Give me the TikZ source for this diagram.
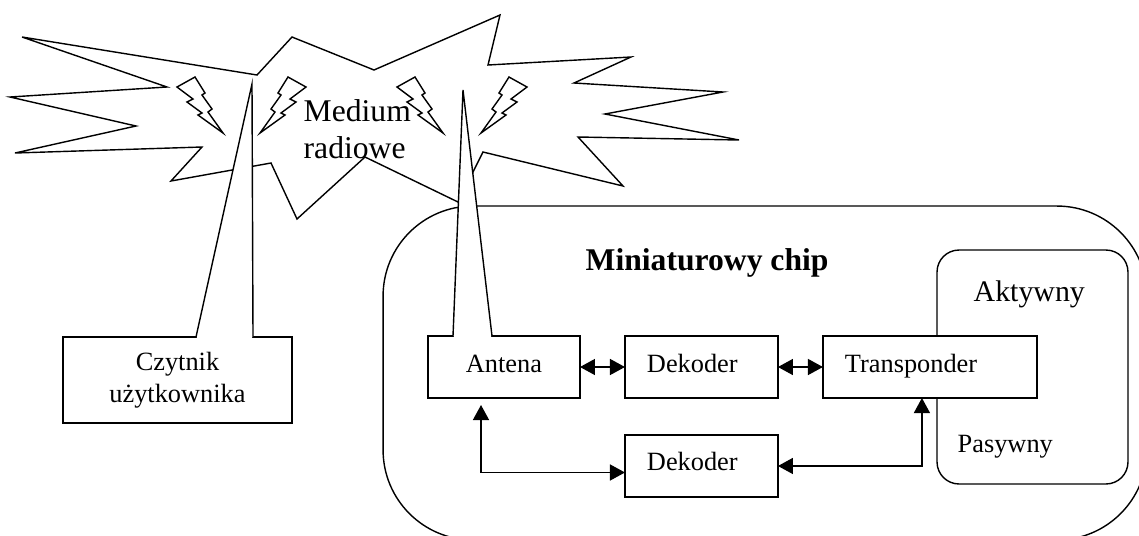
\documentclass[tikz,border=0pt]{standalone}
\usepackage{fontspec}
\setmainfont{Liberation Serif}
\usetikzlibrary{arrows.meta, positioning}

\begin{document}
\begin{tikzpicture}[
    x=0.02cm, y=-0.02cm,
    line width=0.8pt,
    node distance=0.74cm and 0.9cm,
    box/.style={rectangle, draw, fill=white, outer sep=0pt, inner ysep=0pt, align=left, font=\fontsize{15}{18}\selectfont, text height=0.36cm, text depth=0.16cm, minimum height=1.24cm},
    rounded/.style={rectangle, draw, fill=white, outer sep=0pt},
    caption/.style={anchor=base west, inner sep=0pt},
    arrow/.style={{Triangle[length=0.3cm, width=0.32cm]}-{Triangle[length=0.3cm, width=0.32cm]}},
    spike/.style={draw, fill=white, line join=miter},
    bolt/.style={draw, fill=white, line join=miter},
]
\clip (0,0) rectangle (1139,535);

% Medium
\draw[fill=white, line join=miter] (22,37) -- (257,75) -- (292,37) -- (374,70) -- (500,15) -- (488,65)
    -- (631,57) -- (574,83) -- (723,92) -- (605,114) -- (739,140) -- (578,137) -- (623,186)
    -- (483,152) -- (458,202) -- (365,157) -- (297,219) -- (271,163) -- (171,181) -- (202,147)
    -- (15,153) -- (136,126) -- (10,97) -- (167,87) -- cycle;
\node[caption, align=left, font=\fontsize{18}{20.5}\selectfont] (medium) at (303,158) {Medium\\radiowe};

% Lightning
\foreach \bx/\bs in {0/1, 220/1, 483/-1, 704/-1}
    \draw[bolt, shift={(\bx,0)}, xscale=\bs] (177,87) -- (195,77) -- (205,93) -- (202,95) -- (212,109)
        -- (208,112) -- (223,133) -- (198,115) -- (202,113) -- (187,102) -- (193,99) -- cycle;

% Chip
\node[rounded, rounded corners=1.8cm, minimum width=15.28cm, minimum height=6.68cm] (chip) at (765,373) {};
\node[rounded, rounded corners=0.44cm, minimum width=3.82cm, minimum height=4.68cm] (aktywny) at (1032.5,367) {};
\node[caption, font=\fontsize{18}{20}\selectfont\bfseries] (chipname) at (585,270) {Miniaturowy chip};
\node[caption, font=\fontsize{17}{20}\selectfont] (aktywnyname) at (973,301) {Aktywny};
\node[caption, font=\fontsize{15}{18}\selectfont] (pasywnyname) at (957,452) {Pasywny};

% Nodes
\node[box, align=center, text width=2.2cm, inner xsep=0.42cm] (antena) at (504,367) {Antena};
\node[box, text width=2.18cm, inner xsep=0.44cm, right=of antena] (dekoderG) {Dekoder};
\node[box, text width=3.4cm, inner xsep=0.44cm, right=of dekoderG] (transponder) {Transponder};
\node[box, text width=2.18cm, inner xsep=0.44cm, below=of dekoderG] (dekoderD) {Dekoder};
\node[rounded, align=center, font=\fontsize{15}{18.2}\selectfont, minimum width=4.58cm, minimum height=1.72cm] (czytnik) at (177.5,380) {Czytnik\\użytkownika};

% Antennas
\coordinate (tipC) at (252,84);
\coordinate (tipA) at (463,90);
\coordinate (feedA) at (481,405);
\draw[spike] (196,337) -- (tipC) -- (253,337);
\draw[white, line width=1.2pt] (196.8,337) -- (252.2,337);
\draw[spike] (453,336) -- (tipA) -- (492,336);
\draw[white, line width=1.2pt] (453.8,336) -- (491.2,336);

% Arrows
\draw[arrow] (antena) -- (dekoderG);
\draw[arrow] (dekoderG) -- (transponder);
\draw[arrow] (feedA) |- ([yshift=-0.13cm]dekoderD.west);
\draw[arrow] (dekoderD.east) -| ([xshift=-0.16cm]transponder.south);

\end{tikzpicture}
\end{document}
